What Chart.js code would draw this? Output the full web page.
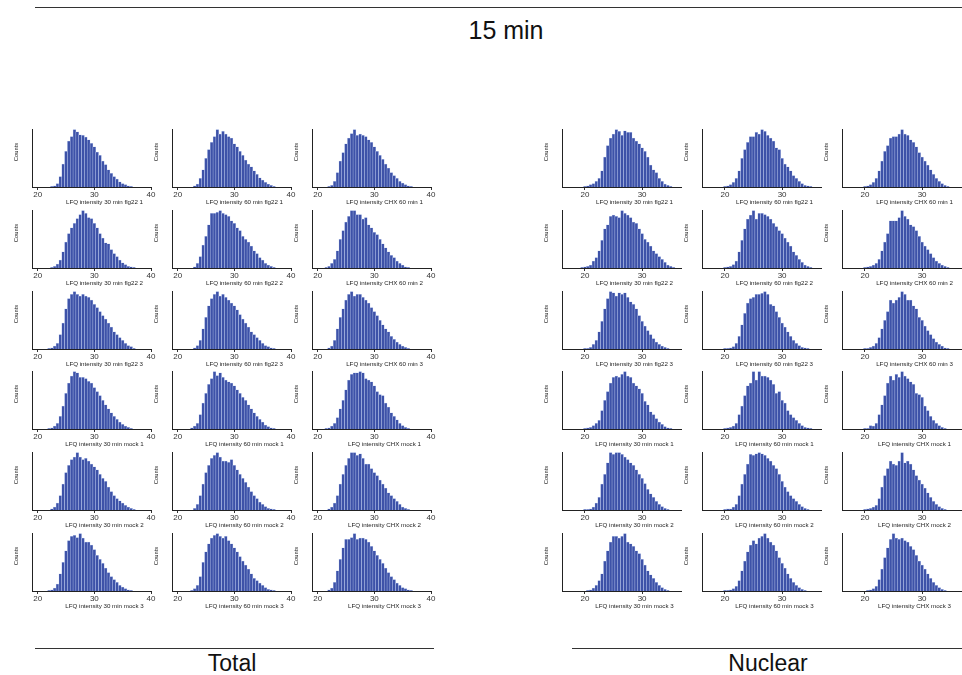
<!DOCTYPE html>
<html>
<head>
<meta charset="utf-8">
<script src="https://cdn.jsdelivr.net/npm/chart.js@4.4.0/dist/chart.umd.min.js"></script>
<style>
  html, body { margin: 0; padding: 0; background: #fff; }
  body { width: 962px; height: 675px; position: relative; overflow: hidden; font-family: 'Liberation Sans', Arial, sans-serif; }
  .rule { position: absolute; height: 0; border-top: 1px solid #333; }
  .heading { position: absolute; font-size: 23px; color: #111; transform: translate(-50%, -50%); white-space: nowrap; }
  .hist { position: absolute; width: 145px; height: 84px; }
</style>
</head>
<body>
<div class="rule" style="left:35px; top:7px; width:927px"></div>
<div class="heading" style="left:506px; top:30px; font-size:25px">15 min</div>
<div class="rule" style="left:35px; top:648px; width:399px"></div>
<div class="rule" style="left:572px; top:648px; width:390px"></div>
<div class="heading" style="left:232px; top:663px">Total</div>
<div class="heading" style="left:768px; top:663px">Nuclear</div>

<script>
// bin centres (LFQ intensity, log2) and axis settings
const totalBins = [21.5, 22, 22.5, 23, 23.5, 24, 24.5, 25, 25.5, 26, 26.5, 27, 27.5, 28, 28.5, 29, 29.5,
                   30, 30.5, 31, 31.5, 32, 32.5, 33, 33.5, 34, 34.5, 35, 35.5, 36, 36.5, 37, 37.5];
const nuclearBins = [18.5, 19, 19.5, 20, 20.5, 21, 21.5, 22, 22.5, 23, 23.5, 24, 24.5, 25, 25.5, 26, 26.5,
                     27, 27.5, 28, 28.5, 29, 29.5, 30, 30.5, 31, 31.5, 32, 32.5, 33, 33.5, 34, 34.5, 35, 35.5];
const totalRange = [19, 40];
const nuclearRange = [16, 36.8];
const totalTicks = [20, 30, 40];
const nuclearTicks = [20, 30];

const sampleLabels = [
  'LFQ intensity 30 min flg22 1', 'LFQ intensity 60 min flg22 1', 'LFQ intensity CHX 60 min 1',
  'LFQ intensity 30 min flg22 2', 'LFQ intensity 60 min flg22 2', 'LFQ intensity CHX 60 min 2',
  'LFQ intensity 30 min flg22 3', 'LFQ intensity 60 min flg22 3', 'LFQ intensity CHX 60 min 3',
  'LFQ intensity 30 min mock 1', 'LFQ intensity 60 min mock 1', 'LFQ intensity CHX mock 1',
  'LFQ intensity 30 min mock 2', 'LFQ intensity 60 min mock 2', 'LFQ intensity CHX mock 2',
  'LFQ intensity 30 min mock 3', 'LFQ intensity 60 min mock 3', 'LFQ intensity CHX mock 3'
];

// counts (relative, tallest bar = 100), Total extract
const total30minFlg22_1 = [0,0,1,2,6,18,40,62,80,88,100,96,91,90,87,82,76,70,61,55,45,39,30,24,18,14,9,6,4,2,1,0,0];
const total60minFlg22_1 = [0,0,0,2,5,15,30,50,65,78,88,100,92,97,92,88,85,75,70,62,55,47,40,35,28,22,16,12,8,5,3,1,0];
const totalCHX60min_1   = [0,1,3,10,25,45,60,75,85,93,100,90,92,90,88,82,78,70,62,55,48,40,33,25,20,15,10,7,4,2,1,0,0];
const total30minFlg22_2 = [0,0,1,3,7,14,28,45,60,70,78,86,93,100,95,88,86,78,70,60,52,44,42,32,25,20,14,9,6,3,2,1,0];
const total60minFlg22_2 = [0,0,0,2,8,20,40,55,75,95,95,97,100,95,93,90,82,78,70,65,55,50,45,38,30,25,18,14,8,5,3,1,0];
const totalCHX60min_2   = [1,3,8,15,30,50,65,80,90,100,100,93,93,85,88,75,70,62,58,50,42,35,28,22,18,12,8,5,2,1,0,0,0];
const total30minFlg22_3 = [0,1,2,5,10,25,45,70,88,95,100,95,92,95,92,90,85,78,72,65,58,52,45,38,30,25,20,15,10,6,4,1,0];
const total60minFlg22_3 = [0,0,0,2,6,15,35,55,75,88,95,100,92,95,90,85,80,75,68,60,52,45,38,30,25,20,15,10,6,4,2,1,0];
const totalCHX60min_3   = [0,2,5,15,35,55,70,85,95,100,92,95,95,90,85,80,72,65,58,50,42,35,30,22,17,12,8,5,3,1,0,0,0];
const total30minMock_1  = [0,1,2,5,10,22,40,62,80,92,100,98,90,90,88,83,80,72,65,58,50,42,35,28,22,17,12,8,5,3,1,0,0];
const total60minMock_1  = [0,0,2,5,10,25,45,62,78,88,100,93,98,90,85,82,80,75,68,62,55,50,42,35,28,22,17,12,7,4,2,1,0];
const totalCHXMock_1    = [1,2,5,10,20,35,50,68,85,95,98,98,100,98,88,85,82,75,65,60,58,45,38,28,22,16,10,6,3,1,0,0,0];
const total30minMock_2  = [0,0,2,5,12,25,45,65,78,88,92,100,92,88,90,85,80,75,70,62,55,50,40,32,25,20,16,12,8,5,3,1,0];
const total60minMock_2  = [0,0,0,3,10,25,45,65,78,90,95,100,92,85,85,83,88,78,70,62,55,48,40,32,25,20,14,10,6,3,2,1,0];
const totalCHXMock_2    = [0,2,5,12,25,45,62,78,90,100,100,95,98,90,80,80,72,65,60,52,45,38,30,25,20,15,10,5,3,1,0,0,0];
const total30minMock_3  = [0,1,2,5,12,30,50,70,88,95,97,93,100,92,85,85,80,72,62,55,48,40,32,25,20,15,10,7,4,2,1,0,0];
const total60minMock_3  = [0,0,1,4,10,25,50,68,82,92,97,100,95,92,95,88,82,75,68,60,52,45,38,30,22,18,14,10,6,3,2,1,0];
const totalCHXMock_3    = [0,2,5,15,35,55,75,90,90,93,100,90,92,92,90,85,78,70,62,55,48,40,32,25,20,14,10,6,4,2,1,0,0];

// counts (relative, tallest bar = 100), Nuclear extract
const nuclear30minFlg22_1 = [0,0,0,1,2,4,6,10,15,28,52,72,85,92,100,97,90,98,95,95,85,80,75,68,62,52,38,30,25,15,10,5,3,1,0];
const nuclear60minFlg22_1 = [0,0,0,1,2,4,8,15,28,50,65,78,88,88,95,92,100,97,90,85,80,68,65,50,40,35,28,20,15,10,6,3,2,1,0];
const nuclearCHX60min_1   = [0,0,0,1,2,4,8,15,28,45,62,72,85,88,88,92,100,92,90,82,78,70,60,52,45,38,30,22,15,10,6,3,1,0,0];
const nuclear30minFlg22_2 = [0,0,1,2,3,5,12,18,30,48,68,75,90,92,90,88,100,95,92,88,80,78,68,60,50,45,38,30,25,20,15,10,5,3,1];
const nuclear60minFlg22_2 = [0,0,0,1,2,3,6,12,28,48,68,85,92,100,85,95,95,93,90,85,78,72,65,60,52,45,38,28,22,15,10,5,3,1,0];
const nuclearCHX60min_2   = [0,0,0,1,2,3,5,8,15,30,45,60,82,82,82,88,100,90,85,75,72,65,55,45,38,32,25,18,12,8,5,3,1,0,0];
const nuclear30minFlg22_3 = [0,0,0,1,1,3,8,15,30,48,70,88,100,98,92,98,95,98,90,82,78,70,58,48,40,32,25,18,12,8,5,3,1,0,0];
const nuclear60minFlg22_3 = [0,0,0,1,1,2,4,10,22,42,62,80,88,90,95,95,97,100,95,78,75,65,55,45,38,30,22,15,10,6,3,2,1,0,0];
const nuclearCHX60min_3   = [0,0,0,1,1,3,5,10,20,35,50,65,85,80,85,90,100,95,85,85,75,70,55,50,40,32,25,18,12,8,5,2,1,0,0];
const nuclear30minMock_1  = [0,0,0,1,2,3,6,10,15,32,50,65,80,90,92,90,95,100,92,90,80,75,70,62,48,42,30,25,18,12,8,4,2,1,0];
const nuclear60minMock_1  = [0,0,0,1,2,3,5,10,25,40,58,75,80,100,85,100,92,92,90,85,78,62,65,50,45,32,25,20,15,10,6,3,2,1,0];
const nuclearCHXMock_1    = [0,0,0,1,1,6,5,10,25,42,58,80,92,85,95,90,100,92,88,82,78,62,60,55,40,32,22,15,10,6,3,1,0,0,0];
const nuclear30minMock_2  = [0,0,0,1,1,2,5,12,22,45,62,82,100,97,100,100,97,92,88,82,78,70,62,55,46,36,28,22,15,10,6,3,1,0,0];
const nuclear60minMock_2  = [0,0,0,1,2,2,5,10,25,45,62,80,97,95,98,100,98,95,90,85,78,72,62,50,40,32,25,20,15,10,6,3,1,0,0];
const nuclearCHXMock_2    = [0,0,0,1,2,3,5,8,20,40,60,72,85,80,78,85,100,82,85,80,70,60,52,45,38,30,22,15,10,6,3,1,0,0,0];
const nuclear30minMock_3  = [0,0,0,0,1,2,5,10,18,30,52,70,85,95,95,92,95,100,85,82,78,70,65,55,45,35,28,22,15,10,6,3,1,0,0];
const nuclear60minMock_3  = [0,0,0,1,1,2,4,8,18,35,52,68,80,88,82,92,95,100,92,85,80,70,58,48,40,30,22,15,10,6,3,1,0,0,0];
const nuclearCHXMock_3    = [0,0,0,0,1,2,4,8,20,38,58,75,90,100,92,90,92,88,85,78,72,62,52,45,38,30,22,15,10,6,3,1,0,0,0];

const totalSeries = [
  total30minFlg22_1, total60minFlg22_1, totalCHX60min_1,
  total30minFlg22_2, total60minFlg22_2, totalCHX60min_2,
  total30minFlg22_3, total60minFlg22_3, totalCHX60min_3,
  total30minMock_1, total60minMock_1, totalCHXMock_1,
  total30minMock_2, total60minMock_2, totalCHXMock_2,
  total30minMock_3, total60minMock_3, totalCHXMock_3
];
const nuclearSeries = [
  nuclear30minFlg22_1, nuclear60minFlg22_1, nuclearCHX60min_1,
  nuclear30minFlg22_2, nuclear60minFlg22_2, nuclearCHX60min_2,
  nuclear30minFlg22_3, nuclear60minFlg22_3, nuclearCHX60min_3,
  nuclear30minMock_1, nuclear60minMock_1, nuclearCHXMock_1,
  nuclear30minMock_2, nuclear60minMock_2, nuclearCHXMock_2,
  nuclear30minMock_3, nuclear60minMock_3, nuclearCHXMock_3
];

const FONT = "'Liberation Sans', Arial, sans-serif";

// x label sits a bit right of the plot centre, "Counts" a bit above the middle
const panelText = {
  id: 'panelText',
  afterDraw(chart, args, opts) {
    const { ctx, chartArea: a } = chart;
    ctx.save();
    ctx.fillStyle = '#222';
    ctx.textAlign = 'center';
    ctx.textBaseline = 'middle';
    ctx.font = '6.2px ' + FONT;
    ctx.fillText(opts.xTitle, (a.left + a.right) / 2 + 13, a.bottom + 15);
    ctx.translate(a.left - 16, a.bottom - 35);
    ctx.rotate(-Math.PI / 2);
    ctx.font = '5.8px ' + FONT;
    ctx.fillText('Counts', 0, 0);
    ctx.restore();
  }
};

function histogram(canvas, bins, counts, range, ticks, xTitle) {
  return new Chart(canvas, {
    type: 'bar',
    data: {
      datasets: [{
        data: bins.map((x, i) => ({ x: x, y: counts[i] })),
        backgroundColor: '#3d52a8',
        borderColor: '#c0cdef',
        borderWidth: 0.5,
        barPercentage: 1,
        categoryPercentage: 1
      }]
    },
    options: {
      responsive: false,
      animation: false,
      events: [],
      layout: { padding: { left: 0, right: 6, top: 0, bottom: 12 } },
      plugins: {
        legend: { display: false },
        tooltip: { enabled: false },
        panelText: { xTitle: xTitle }
      },
      scales: {
        x: {
          type: 'linear',
          offset: false,
          min: range[0],
          max: range[1],
          afterBuildTicks: axis => { axis.ticks = ticks.map(v => ({ value: v })); },
          afterFit: axis => { axis.height = 14; },
          grid: { offset: false, drawOnChartArea: false, drawTicks: true, tickLength: 3, color: '#333' },
          border: { display: true, color: '#222', width: 1 },
          ticks: { padding: 0, maxRotation: 0, autoSkip: false, color: '#333', font: { family: FONT, size: 8 } }
        },
        y: {
          min: 0,
          max: 101,
          afterFit: axis => { axis.width = 20; },
          grid: { display: false },
          border: { display: true, color: '#222', width: 1 },
          ticks: { display: false }
        }
      }
    },
    plugins: [panelText]
  });
}

// page layout: y-axis x position per column, baseline per row
const panels = [
  { series: totalSeries, bins: totalBins, range: totalRange, ticks: totalTicks, axisX: [32, 172, 312] },
  { series: nuclearSeries, bins: nuclearBins, range: nuclearRange, ticks: nuclearTicks, axisX: [562, 702, 842] }
];
const rowBaselines = [187, 268, 349, 429, 510, 591];

panels.forEach(p => {
  p.series.forEach((counts, k) => {
    const row = Math.floor(k / 3), col = k % 3;
    const box = document.createElement('div');
    box.className = 'hist';
    box.style.left = (p.axisX[col] - 20) + 'px';
    box.style.top = (rowBaselines[row] - 58) + 'px';
    const canvas = document.createElement('canvas');
    canvas.width = 145;
    canvas.height = 84;
    box.appendChild(canvas);
    document.body.appendChild(box);
    histogram(canvas, p.bins, counts, p.range, p.ticks, sampleLabels[k]);
  });
});
</script>
</body>
</html>
